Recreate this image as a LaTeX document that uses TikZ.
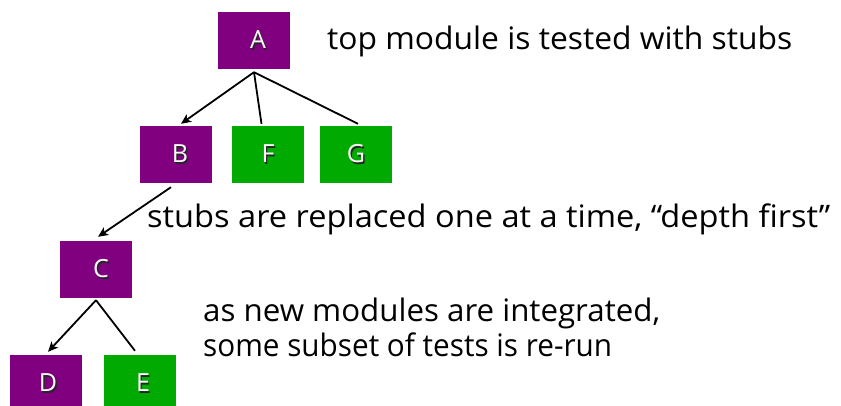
\documentclass[tikz,border=0pt]{standalone}
\usepackage{fontspec}
\setmainfont{Open Sans}
\usetikzlibrary{arrows.meta}
\definecolor{modpurple}{RGB}{128,0,128}
\definecolor{modgreen}{RGB}{0,170,0}
\newcommand\shtext[1]{\makebox[0pt][l]{\hspace{1.4pt}\raisebox{-1.4pt}{\textcolor{black!85}{#1}}}\textcolor{white}{#1}}
\newcommand\fitw[2]{\resizebox{#1}{\height}{#2}}
\tikzset{
  modbox/.style={rectangle, minimum width=72pt, minimum height=57pt, inner sep=0pt,
    font=\fontsize{25}{28}\selectfont, text=white},
  stubbox/.style={modbox, fill=modgreen},
  donebox/.style={modbox, fill=modpurple},
  link/.style={line width=1.8pt, draw=black},
  arr/.style={link, -{Stealth[length=10pt,width=9pt,inset=2.5pt]}},
  note/.style={anchor=base west, inner sep=0pt, font=\fontsize{31}{34}\selectfont}
}
\begin{document}
\begin{tikzpicture}[x=1pt,y=-1pt]
\useasboundingbox (0,0) rectangle (841,406);
\node[donebox] (A) at (254,40.5) {\hspace{8pt}\shtext{A}};
\node[donebox] (B) at (176,154.5) {\hspace{8pt}\shtext{B}};
\node[stubbox] (F) at (268,154.5) {\shtext{F}};
\node[stubbox] (G) at (356,154.5) {\shtext{G}};
\node[donebox] (C) at (96,269.5) {\hspace{10pt}\shtext{C}};
\node[donebox] (D) at (46,383.5) {\hspace{4pt}\shtext{D}};
\node[stubbox] (E) at (140,383.5) {\hspace{6pt}\shtext{E}};
\coordinate (Aroot) at ([yshift=-3pt]A.south);
\coordinate (Croot) at ([yshift=-2pt]C.south);
\draw[arr] (Aroot) -- ([xshift=5pt,yshift=2pt]B.north);
\draw[link] (Aroot) -- ([xshift=-6.5pt,yshift=2pt]F.north);
\draw[link] (Aroot) -- ([xshift=2pt,yshift=2pt]G.north);
\draw[arr] ([xshift=-5pt,yshift=-4pt]B.south) -- ([xshift=2pt,yshift=4pt]C.north);
\draw[arr] (Croot) -- ([xshift=2pt,yshift=3pt]D.north);
\draw[link] (Croot) -- ([xshift=-5pt,yshift=4pt]E.north);
\node[note] (t1) at (327,50) {\fitw{465pt}{top module is tested with stubs}};
\node[note] (t2) at (147,228) {\fitw{683pt}{stubs are replaced one at a time, “depth first”}};
\node[note] (t3) at (203,321.7) {\fitw{457pt}{as new modules are integrated,}};
\node[note] (t4) at (203,356) {\fitw{409pt}{some subset of tests is re-run}};
\end{tikzpicture}
\end{document}
